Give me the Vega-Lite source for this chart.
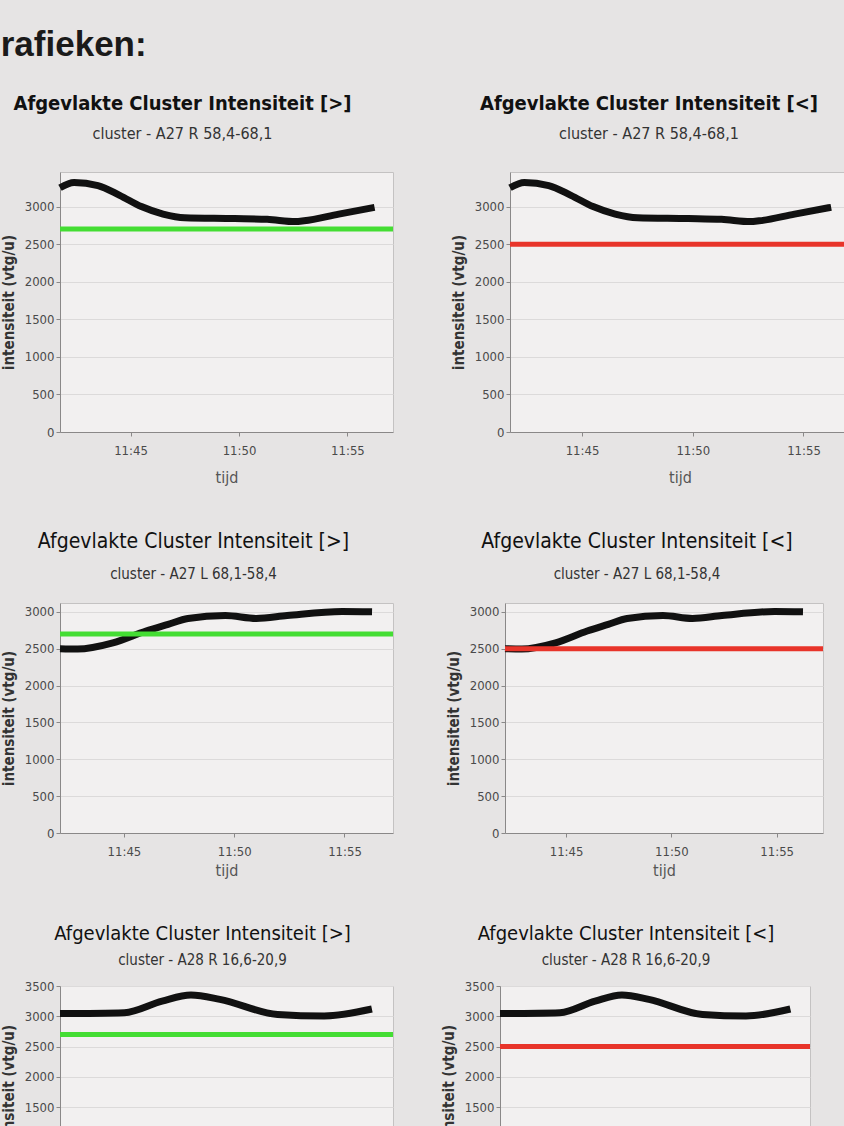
{
  "$schema": "https://vega.github.io/schema/vega-lite/v6.json",
  "background": "#e6e4e4",
  "padding": {"left": 0, "top": 28, "right": 0, "bottom": 0},
  "title": {"text": "rafieken:", "anchor": "start", "fontSize": 35, "fontWeight": "bold", "font": "Liberation Sans", "color": "#1a1a1a", "offset": 30},
  "datasets": {
    "series": [
      {"row": 1, "minute": 41.75, "v": 3250},
      {"row": 1, "minute": 42.4, "v": 3320},
      {"row": 1, "minute": 43.5, "v": 3280},
      {"row": 1, "minute": 44.5, "v": 3150},
      {"row": 1, "minute": 45.5, "v": 3000},
      {"row": 1, "minute": 46.5, "v": 2900},
      {"row": 1, "minute": 47.5, "v": 2850},
      {"row": 1, "minute": 49.8, "v": 2840},
      {"row": 1, "minute": 51.3, "v": 2830},
      {"row": 1, "minute": 52.6, "v": 2800},
      {"row": 1, "minute": 53.0, "v": 2810},
      {"row": 1, "minute": 54.6, "v": 2900},
      {"row": 1, "minute": 56.25, "v": 2990},
      {"row": 2, "minute": 42.1, "v": 2500},
      {"row": 2, "minute": 42.9, "v": 2495},
      {"row": 2, "minute": 44.5, "v": 2580},
      {"row": 2, "minute": 46.0, "v": 2740},
      {"row": 2, "minute": 47.0, "v": 2830},
      {"row": 2, "minute": 47.9, "v": 2910},
      {"row": 2, "minute": 49.6, "v": 2950},
      {"row": 2, "minute": 51.0, "v": 2910},
      {"row": 2, "minute": 52.4, "v": 2950},
      {"row": 2, "minute": 54.9, "v": 3005},
      {"row": 2, "minute": 56.25, "v": 3000},
      {"row": 3, "minute": 42.2, "v": 3045},
      {"row": 3, "minute": 45.1, "v": 3060},
      {"row": 3, "minute": 46.8, "v": 3250},
      {"row": 3, "minute": 48.1, "v": 3350},
      {"row": 3, "minute": 49.4, "v": 3280},
      {"row": 3, "minute": 52.0, "v": 3030},
      {"row": 3, "minute": 54.1, "v": 3005},
      {"row": 3, "minute": 56.25, "v": 3120}
    ],
    "thresholds": [
      {"row": 1, "side": "gt", "level": 2700},
      {"row": 1, "side": "lt", "level": 2500},
      {"row": 2, "side": "gt", "level": 2700},
      {"row": 2, "side": "lt", "level": 2500},
      {"row": 3, "side": "gt", "level": 2700},
      {"row": 3, "side": "lt", "level": 2500}
    ]
  },
  "config": {
    "font": "DejaVu Sans Condensed",
    "view": {"fill": "#f2f0f0", "stroke": "#c4c2c2", "strokeWidth": 1},
    "axis": {
      "labelFont": "DejaVu Sans Condensed",
      "labelFontSize": 13,
      "labelColor": "#4a4a4a",
      "titleFont": "DejaVu Sans Condensed",
      "domainColor": "#8a8888",
      "tickColor": "#8a8888",
      "tickSize": 4,
      "gridColor": "#dcdada",
      "titleColor": "#333333"
    },
    "axisX": {"grid": false, "labelPadding": 8, "titleFontSize": 16, "titleFontWeight": "normal", "titleColor": "#555555", "titlePadding": 12},
    "axisY": {"grid": true, "titleFontSize": 15, "titleFontWeight": "bold", "titlePadding": 8, "labelPadding": 2, "format": "d"},
    "title": {"font": "DejaVu Sans Condensed", "anchor": "middle", "color": "#111111", "subtitleColor": "#333333", "subtitleFontSize": 16, "subtitlePadding": 12, "offset": 27},
    "concat": {"spacing": 44}
  },
  "vconcat": [
    {
      "spacing": 54,
      "hconcat": [
        {
          "width": 333, "height": 260,
          "title": {"text": "Afgevlakte Cluster Intensiteit [>]", "subtitle": "cluster - A27 R 58,4-68,1", "fontSize": 20, "fontWeight": "bold", "dx": -44},
          "layer": [
            {"data": {"name": "series"}, "transform": [{"filter": "datum.row == 1"}],
             "mark": {"type": "line", "color": "#111111", "strokeWidth": 7, "interpolate": "monotone"},
             "encoding": {
               "x": {"field": "minute", "type": "quantitative", "title": "tijd", "scale": {"domain": [41.75, 57.1], "nice": false, "zero": false}, "axis": {"values": [45, 50, 55], "labelExpr": "'11:' + datum.value"}},
               "y": {"field": "v", "type": "quantitative", "title": "intensiteit (vtg/u)", "scale": {"domain": [0, 3460], "nice": false}, "axis": {"values": [0, 500, 1000, 1500, 2000, 2500, 3000]}}
             }},
            {"data": {"name": "thresholds"}, "transform": [{"filter": "datum.row == 1 && datum.side == 'gt'"}],
             "mark": {"type": "rule", "color": "#44dd33", "strokeWidth": 5},
             "encoding": {"y": {"field": "level", "type": "quantitative", "title": "intensiteit (vtg/u)", "axis": {"values": [0, 500, 1000, 1500, 2000, 2500, 3000]}}}}
          ]
        },
        {
          "width": 340, "height": 260,
          "title": {"text": "Afgevlakte Cluster Intensiteit [<]", "subtitle": "cluster - A27 R 58,4-68,1", "fontSize": 20, "fontWeight": "bold", "dx": -31},
          "layer": [
            {"data": {"name": "series"}, "transform": [{"filter": "datum.row == 1"}],
             "mark": {"type": "line", "color": "#111111", "strokeWidth": 7, "interpolate": "monotone"},
             "encoding": {
               "x": {"field": "minute", "type": "quantitative", "title": "tijd", "scale": {"domain": [41.75, 57.1], "nice": false, "zero": false}, "axis": {"values": [45, 50, 55], "labelExpr": "'11:' + datum.value"}},
               "y": {"field": "v", "type": "quantitative", "title": "intensiteit (vtg/u)", "scale": {"domain": [0, 3460], "nice": false}, "axis": {"values": [0, 500, 1000, 1500, 2000, 2500, 3000]}}
             }},
            {"data": {"name": "thresholds"}, "transform": [{"filter": "datum.row == 1 && datum.side == 'lt'"}],
             "mark": {"type": "rule", "color": "#e8342a", "strokeWidth": 5},
             "encoding": {"y": {"field": "level", "type": "quantitative", "title": "intensiteit (vtg/u)", "axis": {"values": [0, 500, 1000, 1500, 2000, 2500, 3000]}}}}
          ]
        }
      ]
    },
    {
      "spacing": 49,
      "hconcat": [
        {
          "width": 333, "height": 230,
          "title": {"text": "Afgevlakte Cluster Intensiteit [>]", "subtitle": "cluster - A27 L 68,1-58,4", "fontSize": 21, "fontWeight": "normal", "subtitleFontSize": 15, "subtitlePadding": 15, "offset": 15, "dx": -33},
          "layer": [
            {"data": {"name": "series"}, "transform": [{"filter": "datum.row == 2"}],
             "mark": {"type": "line", "color": "#111111", "strokeWidth": 7, "interpolate": "monotone"},
             "encoding": {
               "x": {"field": "minute", "type": "quantitative", "title": "tijd", "scale": {"domain": [42.1, 57.2], "nice": false, "zero": false}, "axis": {"values": [45, 50, 55], "labelExpr": "'11:' + datum.value", "titlePadding": 4}},
               "y": {"field": "v", "type": "quantitative", "title": "intensiteit (vtg/u)", "scale": {"domain": [0, 3120], "nice": false}, "axis": {"values": [0, 500, 1000, 1500, 2000, 2500, 3000]}}
             }},
            {"data": {"name": "thresholds"}, "transform": [{"filter": "datum.row == 2 && datum.side == 'gt'"}],
             "mark": {"type": "rule", "color": "#44dd33", "strokeWidth": 5},
             "encoding": {"y": {"field": "level", "type": "quantitative", "title": "intensiteit (vtg/u)", "axis": {"values": [0, 500, 1000, 1500, 2000, 2500, 3000]}}}}
          ]
        },
        {
          "width": 318, "height": 230,
          "title": {"text": "Afgevlakte Cluster Intensiteit [<]", "subtitle": "cluster - A27 L 68,1-58,4", "fontSize": 21, "fontWeight": "normal", "subtitleFontSize": 15, "subtitlePadding": 15, "offset": 15, "dx": -27},
          "layer": [
            {"data": {"name": "series"}, "transform": [{"filter": "datum.row == 2"}],
             "mark": {"type": "line", "color": "#111111", "strokeWidth": 7, "interpolate": "monotone"},
             "encoding": {
               "x": {"field": "minute", "type": "quantitative", "title": "tijd", "scale": {"domain": [42.1, 57.2], "nice": false, "zero": false}, "axis": {"values": [45, 50, 55], "labelExpr": "'11:' + datum.value", "titlePadding": 4}},
               "y": {"field": "v", "type": "quantitative", "title": "intensiteit (vtg/u)", "scale": {"domain": [0, 3120], "nice": false}, "axis": {"values": [0, 500, 1000, 1500, 2000, 2500, 3000]}}
             }},
            {"data": {"name": "thresholds"}, "transform": [{"filter": "datum.row == 2 && datum.side == 'lt'"}],
             "mark": {"type": "rule", "color": "#e8342a", "strokeWidth": 5},
             "encoding": {"y": {"field": "level", "type": "quantitative", "title": "intensiteit (vtg/u)", "axis": {"values": [0, 500, 1000, 1500, 2000, 2500, 3000]}}}}
          ]
        }
      ]
    },
    {
      "spacing": 44,
      "hconcat": [
        {
          "width": 333, "height": 212,
          "title": {"text": "Afgevlakte Cluster Intensiteit [>]", "subtitle": "cluster - A28 R 16,6-20,9", "fontSize": 20, "fontWeight": "normal", "subtitleFontSize": 15, "subtitlePadding": 9, "offset": 12, "dx": -24},
          "layer": [
            {"data": {"name": "series"}, "transform": [{"filter": "datum.row == 3"}],
             "mark": {"type": "line", "color": "#111111", "strokeWidth": 7, "interpolate": "monotone"},
             "encoding": {
               "x": {"field": "minute", "type": "quantitative", "title": "tijd", "scale": {"domain": [42.2, 57.2], "nice": false, "zero": false}, "axis": {"values": [45, 50, 55], "labelExpr": "'11:' + datum.value"}},
               "y": {"field": "v", "type": "quantitative", "title": "intensiteit (vtg/u)", "scale": {"domain": [0, 3500], "nice": false}, "axis": {"values": [0, 500, 1000, 1500, 2000, 2500, 3000, 3500]}}
             }},
            {"data": {"name": "thresholds"}, "transform": [{"filter": "datum.row == 3 && datum.side == 'gt'"}],
             "mark": {"type": "rule", "color": "#44dd33", "strokeWidth": 5},
             "encoding": {"y": {"field": "level", "type": "quantitative", "title": "intensiteit (vtg/u)", "axis": {"values": [0, 500, 1000, 1500, 2000, 2500, 3000, 3500]}}}}
          ]
        },
        {
          "width": 310, "height": 212,
          "title": {"text": "Afgevlakte Cluster Intensiteit [<]", "subtitle": "cluster - A28 R 16,6-20,9", "fontSize": 20, "fontWeight": "normal", "subtitleFontSize": 15, "subtitlePadding": 9, "offset": 12, "dx": -29},
          "layer": [
            {"data": {"name": "series"}, "transform": [{"filter": "datum.row == 3"}],
             "mark": {"type": "line", "color": "#111111", "strokeWidth": 7, "interpolate": "monotone"},
             "encoding": {
               "x": {"field": "minute", "type": "quantitative", "title": "tijd", "scale": {"domain": [42.2, 57.2], "nice": false, "zero": false}, "axis": {"values": [45, 50, 55], "labelExpr": "'11:' + datum.value"}},
               "y": {"field": "v", "type": "quantitative", "title": "intensiteit (vtg/u)", "scale": {"domain": [0, 3500], "nice": false}, "axis": {"values": [0, 500, 1000, 1500, 2000, 2500, 3000, 3500]}}
             }},
            {"data": {"name": "thresholds"}, "transform": [{"filter": "datum.row == 3 && datum.side == 'lt'"}],
             "mark": {"type": "rule", "color": "#e8342a", "strokeWidth": 5},
             "encoding": {"y": {"field": "level", "type": "quantitative", "title": "intensiteit (vtg/u)", "axis": {"values": [0, 500, 1000, 1500, 2000, 2500, 3000, 3500]}}}}
          ]
        }
      ]
    }
  ]
}
